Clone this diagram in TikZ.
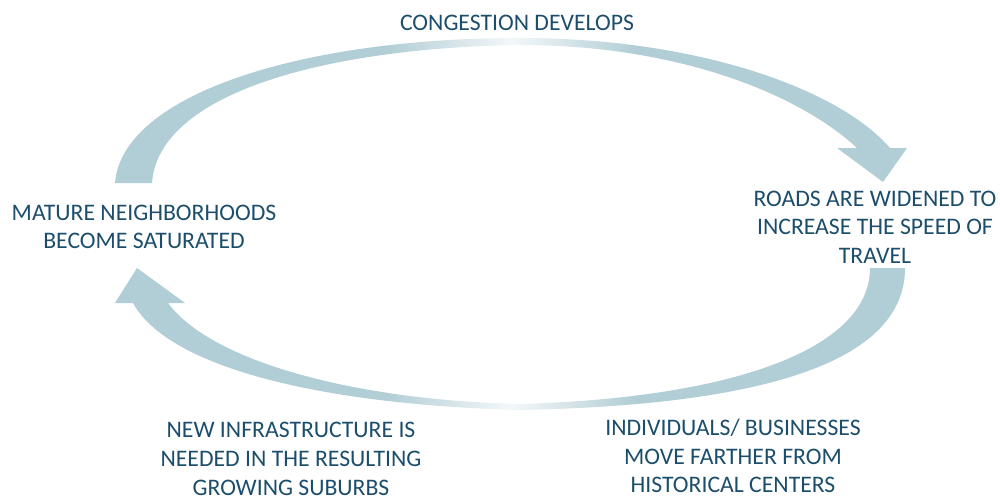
\documentclass[tikz,border=0pt]{standalone}
\usepackage{fontspec}
\setmainfont{Carlito}
\definecolor{arrowblue}{RGB}{177,205,213}
\definecolor{labelblue}{RGB}{28,78,108}
\pgfdeclarehorizontalshading{cyclefade}{100bp}{color(0bp)=(arrowblue); color(42bp)=(arrowblue); color(50bp)=(arrowblue!15); color(58bp)=(arrowblue); color(100bp)=(arrowblue)}
\begin{document}
\begin{tikzpicture}
[x=0.02cm,y=-0.02cm,
  labeldecorate/.style={align=center,text=labelblue,inner sep=0pt,
    font=\fontsize{13.5}{16.3}\selectfont},%
  arrowdecorate/.style={shading=cyclefade,draw=none}]
\useasboundingbox (0,0) rectangle (1000,500);
%% upper arrow, clockwise
\shade[arrowdecorate]
  (115,183) .. controls (122,95) and (300,38) .. (520,38)
  .. controls (700,38) and (840,90) .. (890,148)
  -- (907,148) -- (883,182) -- (837,148) -- (857,148)
  .. controls (800,95) and (680,45) .. (520,45)
  .. controls (320,48) and (158,95) .. (152,183) -- cycle;
%% lower arrow, back to the left
\shade[arrowdecorate]
  (905,268) .. controls (905,360) and (770,405) .. (520,410)
  .. controls (330,405) and (170,370) .. (133,303)
  -- (115,303) -- (137,268) -- (185,303) -- (168,303)
  .. controls (210,360) and (350,400) .. (520,404)
  .. controls (730,398) and (870,350) .. (870,268) -- cycle;
%% labels
\node (congestion) at (517,23) [labeldecorate] {CONGESTION DEVELOPS};
\node (roads) at (875,227) [labeldecorate] {ROADS ARE WIDENED TO\\INCREASE THE SPEED OF\\TRAVEL};
\node (individuals) at (733,456) [labeldecorate] {INDIVIDUALS/ BUSINESSES\\MOVE FARTHER FROM\\HISTORICAL CENTERS};
\node (infrastructure) at (291,459) [labeldecorate] {NEW INFRASTRUCTURE IS\\NEEDED IN THE RESULTING\\GROWING SUBURBS};
\node (mature) at (144,227) [labeldecorate] {MATURE NEIGHBORHOODS\\BECOME SATURATED};
\end{tikzpicture}
\end{document}
